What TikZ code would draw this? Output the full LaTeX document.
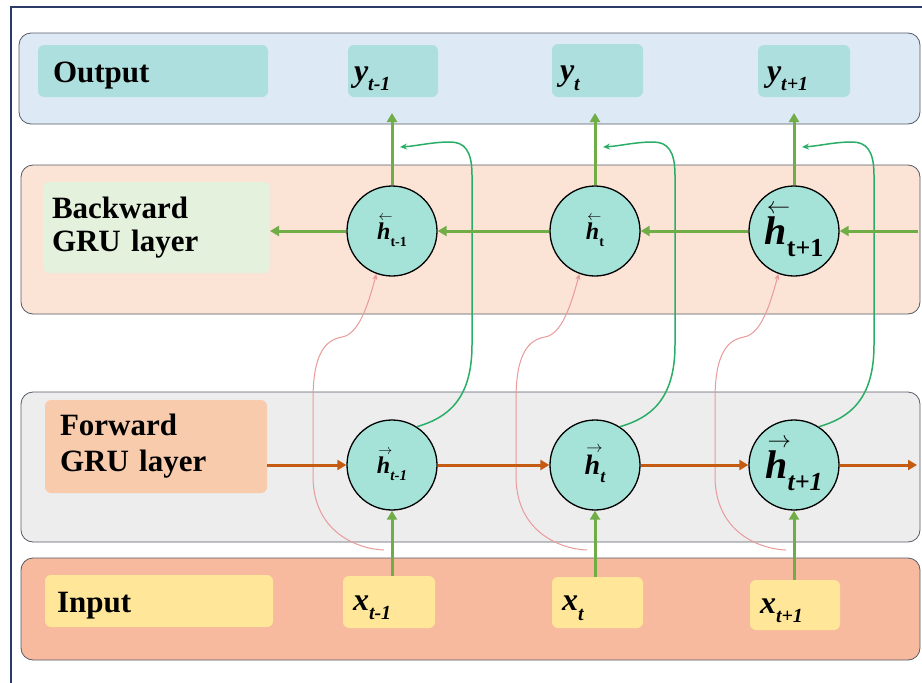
\documentclass[tikz,border=0pt]{standalone}
\usepackage{fontspec}
\setmainfont{Liberation Serif}
\usetikzlibrary{arrows.meta}
\definecolor{framec}{HTML}{2B3A67}
\definecolor{bandline}{HTML}{555B66}
\definecolor{outfill}{HTML}{DDEAF6}
\definecolor{outlab}{HTML}{AEDFDF}
\definecolor{backfill}{HTML}{FBE3D6}
\definecolor{backlab}{HTML}{E3F1DD}
\definecolor{forfill}{HTML}{EDEDEE}
\definecolor{forlab}{HTML}{F8CBAD}
\definecolor{infill}{HTML}{F8BA9E}
\definecolor{inlab}{HTML}{FFE699}
\definecolor{cellc}{HTML}{A5E3D8}
\definecolor{garrc}{HTML}{70AD47}
\definecolor{oarrc}{HTML}{C55A11}
\definecolor{gthinc}{HTML}{2AAE67}
\definecolor{pthinc}{HTML}{E99A9A}
\newsavebox{\hbx}
\newcommand{\vech}[1]{%
  \sbox{\hbx}{\bfseries\itshape h}%
  \rlap{\hspace{0.1\wd\hbx}\raisebox{1.12\ht\hbx}{\resizebox{1.05\wd\hbx}{!}{$#1$}}}\usebox{\hbx}}
\begin{document}
\begin{tikzpicture}[x=1pt,y=-1pt,
  band/.style={draw=bandline, line width=0.8pt, rounded corners=12pt, inner sep=0pt, outer sep=0pt},
  lbox/.style={rounded corners=6pt, inner ysep=0pt, outer sep=0pt, align=left, font=\fontsize{31}{33}\selectfont\bfseries},
  vbox/.style={rounded corners=6pt, inner ysep=0pt, outer sep=0pt, align=left, font=\bfseries\itshape\fontsize{32}{32}\selectfont},
  cell/.style={circle, draw=black, line width=1.3pt, fill=cellc, minimum size=90pt, inner sep=0pt},
  garr/.style={draw=garrc, line width=3pt, -{Triangle[length=9pt,width=10pt]}},
  oarr/.style={draw=oarrc, line width=3pt, -{Triangle[length=9pt,width=10pt]}},
  gthin/.style={draw=gthinc, line width=1.5pt, -{Stealth[length=7pt,width=6pt]}},
  pthin/.style={draw=pthinc, line width=1pt, -{Stealth[length=6pt,width=5pt]}},
  frame/.style={draw=framec, line width=1.2pt}
]
\useasboundingbox (0,0) rectangle (922,683);
\fill[white] (0,0) rectangle (922,683);
\draw[frame] (11,683) -- (11,7) -- (922,7);

% bands
\node[band, fill=outfill, minimum width=901pt, minimum height=91pt] (outband) at (469.5,78.5) {};
\node[band, fill=backfill, minimum width=899pt, minimum height=149pt] (backband) at (470.5,239.5) {};
\node[band, fill=forfill, minimum width=899pt, minimum height=150pt] (forband) at (470.5,467) {};
\node[band, fill=infill, minimum width=899pt, minimum height=102pt] (inband) at (470.5,609) {};

% label boxes
\node[lbox, fill=outlab, inner xsep=15pt, text width=200pt, minimum height=52pt, text height=26pt, text depth=4pt] (ol) at (153,71) {Output};
\node[lbox, fill=backlab, inner xsep=9pt, text width=209pt, minimum height=91pt] (bl) at (156.5,227.5) {Backward\\GRU layer};
\node[lbox, fill=forlab, inner xsep=15pt, text width=192pt, minimum height=93pt, font=\fontsize{31}{36}\selectfont\bfseries] (fl) at (156,446.5) {Forward\\GRU layer};
\node[lbox, fill=inlab, inner xsep=12pt, text width=204pt, minimum height=52pt, text height=26pt, text depth=4pt] (il) at (159,601) {Input};

\node[vbox, fill=outlab, inner xsep=6pt, text width=78pt, minimum height=52pt, text height=28pt, text depth=8pt] (yb1) at (393,71) {y\raisebox{-0.3em}{\fontsize{20}{20}\selectfont t-1}};
\node[vbox, fill=outlab, inner xsep=8pt, text width=75pt, minimum height=53pt, text height=28pt, text depth=8pt] (yb2) at (597.5,70.5) {y\raisebox{-0.3em}{\fontsize{20}{20}\selectfont t}};
\node[vbox, fill=outlab, inner xsep=9pt, text width=74pt, minimum height=52pt, text height=28pt, text depth=8pt] (yb3) at (804,71) {y\raisebox{-0.3em}{\fontsize{20}{20}\selectfont t+1}};

\node[vbox, fill=inlab, inner xsep=10pt, text width=72pt, minimum height=52pt, text height=24pt, text depth=8pt] (xb1) at (389,602) {x\raisebox{-0.3em}{\fontsize{20}{20}\selectfont t-1}};
\node[vbox, fill=inlab, inner xsep=10pt, text width=71pt, minimum height=51pt, text height=24pt, text depth=8pt] (xb2) at (597.5,602.5) {x\raisebox{-0.3em}{\fontsize{20}{20}\selectfont t}};
\node[vbox, fill=inlab, inner xsep=10pt, text width=70pt, minimum height=50pt, text height=24pt, text depth=8pt] (xb3) at (795,605) {x\raisebox{-0.3em}{\fontsize{20}{20}\selectfont t+1}};

% cells
\node[cell] (hb1) at (392,231) {\fontsize{24}{24}\selectfont\bfseries\vech{\leftarrow}\raisebox{-0.3em}{\fontsize{14}{14}\selectfont t-1}};
\node[cell] (hb2) at (595,231) {\fontsize{24}{24}\selectfont\bfseries\vech{\leftarrow}\raisebox{-0.3em}{\fontsize{14}{14}\selectfont t}};
\node[cell] (hb3) at (794,231) {\fontsize{40}{40}\selectfont\bfseries\vech{\leftarrow}\raisebox{-0.3em}{\fontsize{26}{26}\selectfont t+1}};
\node[cell] (hf1) at (392,465) {\fontsize{24}{24}\selectfont\bfseries\vech{\rightarrow}\raisebox{-0.3em}{\fontsize{15}{15}\selectfont\itshape t-1}};
\node[cell] (hf2) at (595,465) {\fontsize{28}{28}\selectfont\bfseries\vech{\rightarrow}\raisebox{-0.3em}{\fontsize{18}{18}\selectfont\itshape t}};
\node[cell] (hf3) at (794,465) {\fontsize{40}{40}\selectfont\bfseries\vech{\rightarrow}\raisebox{-0.3em}{\fontsize{26}{26}\selectfont\itshape t+1}};

% free ends
\coordinate (bin) at (918,231);
\coordinate (fout) at (917,465);

% thin curves and vertical arrows
\foreach \i/\cx in {1/392,2/595,3/794}{
  \coordinate (ps\i) at (\cx-8,550);
  \coordinate (gt\i) at (\cx+8,147);
  \draw[pthin] (ps\i) .. controls (\cx-35,549) and (\cx-78,532) .. (\cx-79,478)
     -- (\cx-79,400) .. controls (\cx-79,352) and (\cx-66,340) .. (\cx-50,337)
     .. controls (\cx-33,334) and (\cx-24,305) .. (hb\i.250);
  \draw[gthin] (hf\i.57) .. controls (\cx+55,418) and (\cx+80,400) .. (\cx+80,345)
     -- (\cx+80,175) .. controls (\cx+80,150) and (\cx+72,142) .. (\cx+58,142)
     .. controls (\cx+40,142) and (\cx+25,146) .. (gt\i);
  \draw[garr] (hf\i.south |- xb\i.north) -- (hf\i.south);
  \draw[garr, shorten >=16pt] (hb\i.north) -- (hb\i.north |- yb\i.south);
}

% backward chain
\draw[garr] (bin) -- (hb3.east);
\draw[garr] (hb3.west) -- (hb2.east);
\draw[garr] (hb2.west) -- (hb1.east);
\draw[garr] (hb1.west) -- (hb1.west -| bl.east);

% forward chain
\draw[oarr] (fl.east |- hf1.west) -- (hf1.west);
\draw[oarr] (hf1.east) -- (hf2.west);
\draw[oarr] (hf2.east) -- (hf3.west);
\draw[oarr] (hf3.east) -- (fout);
\end{tikzpicture}
\end{document}
